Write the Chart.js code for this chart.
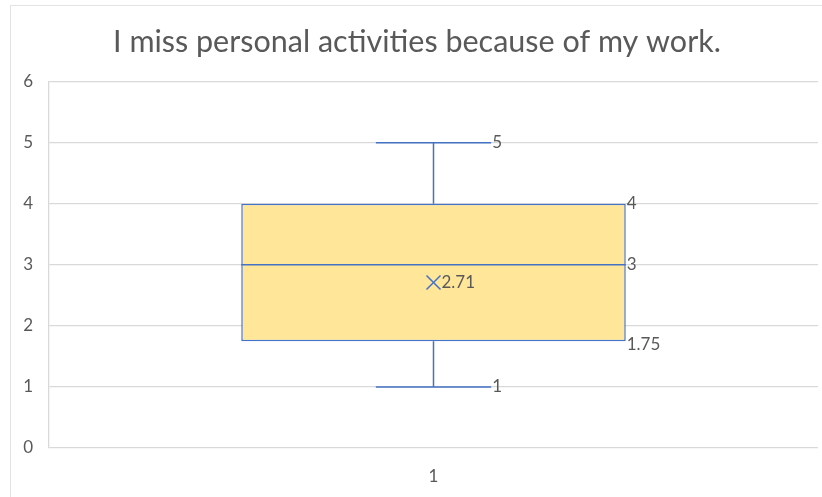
<!DOCTYPE html>
<html>
<head>
<meta charset="utf-8">
<script src="https://cdn.jsdelivr.net/npm/chart.js"></script>
<style>
  body { margin: 0; background: #fff; }
  #wrap { position: relative; width: 822px; height: 497px; }
  #frame { position: absolute; left: 10px; top: 5px; width: 830px; height: 520px;
           border-left: 1.5px solid #e3e3e3; border-top: 1.5px solid #e3e3e3; }
  canvas { position: absolute; left: 0; top: 0; }
</style>
</head>
<body>
<div id="wrap">
  <div id="frame"></div>
  <canvas id="boxChart" width="822" height="497"></canvas>
</div>
<script>
const categories = ["1"];
const minValues = [1];
const q1Values = [1.75];
const medianValues = [3];
const q3Values = [4];
const maxValues = [5];
const meanValues = [2.71];
const yTicks = [0, 1, 2, 3, 4, 5, 6];

const lineBlue = "#4472C4";
const textGray = "#595959";

// whiskers, median, mean marker and value labels drawn from the arrays above
const boxExtras = {
  id: "boxExtras",
  afterDatasetsDraw(chart) {
    const ctx = chart.ctx;
    const y = chart.scales.y;
    const meta = chart.getDatasetMeta(0);
    meta.data.forEach((bar, i) => {
      const cx = bar.x;
      const half = bar.width / 2;
      const capHalf = bar.width * 0.15;
      const yMin = y.getPixelForValue(minValues[i]);
      const yQ1 = y.getPixelForValue(q1Values[i]);
      const yMed = y.getPixelForValue(medianValues[i]);
      const yQ3 = y.getPixelForValue(q3Values[i]);
      const yMax = y.getPixelForValue(maxValues[i]);
      const yMean = y.getPixelForValue(meanValues[i]);

      ctx.save();
      ctx.strokeStyle = lineBlue;
      ctx.lineWidth = 1.5;
      ctx.beginPath();
      // upper whisker
      ctx.moveTo(cx, yQ3); ctx.lineTo(cx, yMax);
      ctx.moveTo(cx - capHalf, yMax); ctx.lineTo(cx + capHalf, yMax);
      // lower whisker
      ctx.moveTo(cx, yQ1); ctx.lineTo(cx, yMin);
      ctx.moveTo(cx - capHalf, yMin); ctx.lineTo(cx + capHalf, yMin);
      // median
      ctx.moveTo(cx - half, yMed); ctx.lineTo(cx + half, yMed);
      // mean cross
      const m = 7;
      ctx.moveTo(cx - m, yMean - m); ctx.lineTo(cx + m, yMean + m);
      ctx.moveTo(cx - m, yMean + m); ctx.lineTo(cx + m, yMean - m);
      ctx.stroke();

      ctx.fillStyle = textGray;
      ctx.font = "17px Lato";
      ctx.textBaseline = "middle";
      ctx.textAlign = "left";
      ctx.fillText(String(maxValues[i]), cx + capHalf + 1, yMax);
      ctx.fillText(String(minValues[i]), cx + capHalf + 1, yMin);
      ctx.fillText(String(q3Values[i]), cx + half + 1, yQ3);
      ctx.fillText(String(medianValues[i]), cx + half + 1, yMed);
      ctx.fillText(String(q1Values[i]), cx + half + 1, yQ1 + 3);
      ctx.fillText(meanValues[i].toFixed(2), cx + m + 1, yMean);
      ctx.restore();
    });
  }
};

const ctx = document.getElementById("boxChart").getContext("2d");
new Chart(ctx, {
  type: "bar",
  data: {
    labels: categories,
    datasets: [
      {
        label: "Box",
        data: q1Values.map((q, i) => [q, q3Values[i]]),
        backgroundColor: "#FFE699",
        borderColor: lineBlue,
        borderWidth: 1.5,
        borderSkipped: false,
        categoryPercentage: 1,
        barPercentage: 0.5,
      },
    ],
  },
  options: {
    responsive: false,
    animation: false,
    layout: { padding: { left: 16, right: 4, top: 0, bottom: 0 } },
    plugins: {
      legend: { display: false },
      tooltip: { enabled: false },
      title: {
        display: true,
        text: "I miss personal activities because of my work.",
        color: textGray,
        font: { family: "Lato", size: 30.5, weight: "normal" },
        padding: { top: 24, bottom: 21 },
      },
    },
    scales: {
      x: {
        afterFit: (scale) => { scale.height = 49; },
        grid: { display: false, drawTicks: false },
        border: { display: false },
        ticks: { color: textGray, font: { family: "Lato", size: 17 }, padding: 18 },
      },
      y: {
        min: 0,
        max: 6,
        afterFit: (scale) => { scale.width = 33; },
        afterBuildTicks: (scale) => { scale.ticks = yTicks.map((v) => ({ value: v })); },
        grid: { color: "#d9d9d9", lineWidth: 1.3, drawTicks: false },
        border: { display: true, color: "#d9d9d9", width: 1.3 },
        ticks: { color: textGray, font: { family: "Lato", size: 17 }, padding: 16 },
      },
    },
  },
  plugins: [boxExtras],
});
</script>
</body>
</html>
